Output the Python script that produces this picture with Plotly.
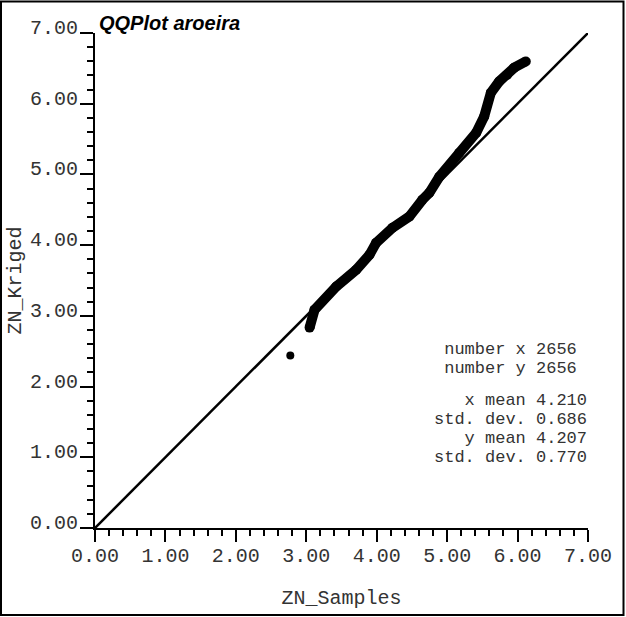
import plotly.graph_objects as go

# Quantile pairs (ZN_Samples, ZN_Kriged)
outlier_x = [2.773]
outlier_y = [2.438]
q_samples = [3.047, 3.117, 3.425, 3.708, 3.897, 3.992, 4.223, 4.464, 4.648, 4.747,
             4.889, 5.172, 5.413, 5.526, 5.621, 5.739, 5.852, 5.952, 6.117]
q_kriged = [2.834, 3.085, 3.414, 3.651, 3.863, 4.033, 4.245, 4.405, 4.641, 4.740,
            4.967, 5.307, 5.590, 5.820, 6.155, 6.315, 6.410, 6.509, 6.598]
ref_line = [0.0, 7.0]
tick_vals = [0, 1, 2, 3, 4, 5, 6, 7]

stat_lines = [
    "\u00a0number x 2656",
    "\u00a0number y 2656",
    "\u00a0\u00a0\u00a0x mean 4.210",
    "std. dev. 0.686",
    "\u00a0\u00a0\u00a0y mean 4.207",
    "std. dev. 0.770",
]
stat_y = [2.52, 2.25, 1.81, 1.54, 1.27, 1.00]

W, H = 626, 617
ML, MR, MT, MB = 95, 38, 33, 89
PW, PH = W - ML - MR, H - MT - MB

mono = "Liberation Mono, Courier New, monospace"

fig = go.Figure()
fig.add_trace(go.Scatter(x=ref_line, y=ref_line, mode="lines",
                         line=dict(color="black", width=2.5), hoverinfo="skip"))
fig.add_trace(go.Scatter(x=q_samples, y=q_kriged, mode="lines+markers",
                         line=dict(color="black", width=10),
                         marker=dict(color="black", size=10)))
fig.add_trace(go.Scatter(x=outlier_x, y=outlier_y, mode="markers",
                         marker=dict(color="black", size=8)))

axis_common = dict(
    range=[0, 7], tickvals=tick_vals, tickformat=".2f", automargin=False,
    showgrid=False, zeroline=False, showline=True, linecolor="black", linewidth=2,
    ticks="outside", tickcolor="black", tickwidth=2,
    tickfont=dict(family=mono, size=20, color="#333"),
    minor=dict(dtick=0.2, tick0=0, ticks="outside", ticklen=6, tickwidth=2,
               tickcolor="black", showgrid=False),
)
fig.update_xaxes(**axis_common, ticklen=12, ticklabelstandoff=-4,
                 title=dict(text="ZN_Samples", font=dict(family=mono, size=20, color="#333"),
                            standoff=23))
fig.update_yaxes(**axis_common, ticklen=13, ticklabelshift=-6, ticklabelstandoff=-2,
                 title=dict(text="ZN_Kriged", font=dict(family=mono, size=20, color="#333"),
                            standoff=3))

anns = [dict(text="<b><i>QQPlot aroeira</i></b>", x=2 / PW, y=1.0, xref="paper", yref="paper",
             xanchor="left", yanchor="bottom", showarrow=False, yshift=-3,
             font=dict(family="Liberation Sans, Arial, sans-serif", size=20, color="black"))]
for t, yy in zip(stat_lines, stat_y):
    anns.append(dict(text=t, x=4.79, y=yy, xref="x", yref="y", xanchor="left",
                     yanchor="middle", showarrow=False,
                     font=dict(family=mono, size=17, color="#333")))

fig.update_layout(
    width=W, height=H, margin=dict(l=ML, r=MR, t=MT, b=MB, autoexpand=False),
    paper_bgcolor="white", plot_bgcolor="white", showlegend=False,
    annotations=anns,
    shapes=[dict(type="rect", xref="paper", yref="paper",
                 x0=-(ML - 1) / PW, x1=1 + (MR - 2.5) / PW,
                 y0=-(MB - 2) / PH, y1=1 + (MT - 1.5) / PH,
                 line=dict(color="black", width=2), layer="above")],
)
fig.write_html("out.html", config={"displayModeBar": False},
               post_script="document.body.style.margin='0';document.body.style.padding='0';"
                           "document.body.style.overflow='hidden';")
